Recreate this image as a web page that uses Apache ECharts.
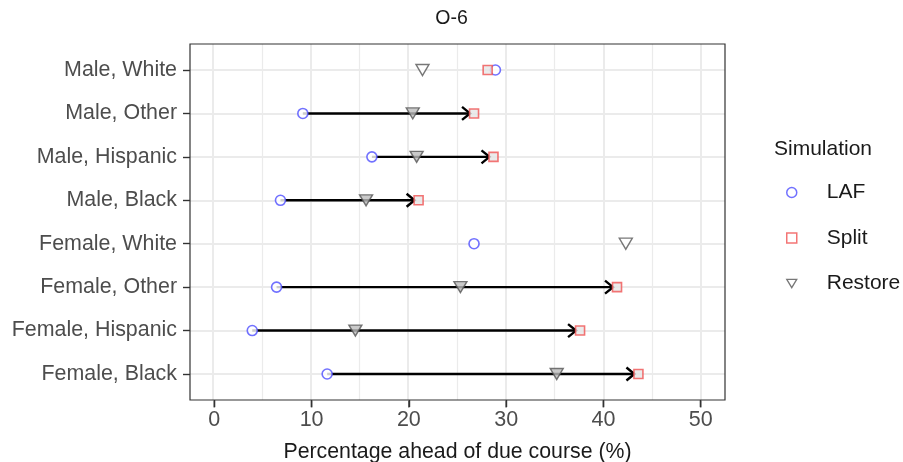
<!DOCTYPE html>
<html><head><meta charset="utf-8">
<script src="https://cdn.jsdelivr.net/npm/echarts@6/dist/echarts.min.js"></script>
<style>html,body{margin:0;padding:0;background:#fff}#c{width:903px;height:462px}</style>
</head><body><div id="c"></div>
<script>
var categories = ["Male, White","Male, Other","Male, Hispanic","Male, Black","Female, White","Female, Other","Female, Hispanic","Female, Black"];
var lafValues = [28.9, 9.1, 16.2, 6.8, 26.7, 6.4, 3.9, 11.6];
var splitValues = [28.1, 26.7, 28.7, 21.0, null, 41.4, 37.6, 43.6];
var restoreValues = [21.4, 20.4, 20.8, 15.6, 42.3, 25.3, 14.5, 35.2];
var xTicks = [0, 10, 20, 30, 40, 50];

var FONT = "'Liberation Sans', Arial, Helvetica, sans-serif";
var BLUE = '#4d4dff', RED = '#f05252', GRAYS = '#555555';

function hasArrow(i){ return splitValues[i] != null && splitValues[i] > lafValues[i] + 1; }

var arrowData = [];
categories.forEach(function(c,i){ if (hasArrow(i)) arrowData.push([lafValues[i], splitValues[i], i]); });

var chart = echarts.init(document.getElementById('c'), null, {renderer:'canvas'});
chart.setOption({
  animation: false,
  backgroundColor: '#fff',
  textStyle: {fontFamily: FONT},
  title: [
    {text: 'O-6', left: 'center', top: 4, textStyle: {fontFamily: FONT, fontSize: 19.5, fontWeight: 'normal', color: '#1a1a1a'}},
    {text: 'Simulation', left: 769, top: 134, textStyle: {fontFamily: FONT, fontSize: 21, fontWeight: 'normal', color: '#1a1a1a'}}
  ],
  legend: {
    orient: 'vertical', left: 786, top: 182, padding: 0,
    itemWidth: 10, itemHeight: 10, itemGap: 24.5,
    textStyle: {fontFamily: FONT, fontSize: 21, color: '#1a1a1a', lineHeight: 20, padding: [0,0,0,25]},
    data: [
      {name: 'LAF', icon: 'circle', itemStyle: {color: '#fff', borderColor: BLUE, borderWidth: 1.5}},
      {name: 'Split', icon: 'rect', itemStyle: {color: '#fff', borderColor: RED, borderWidth: 1.5}},
      {name: 'Restore', icon: 'path://M0,0L12,0L6,10Z', itemStyle: {color: '#fff', borderColor: GRAYS, borderWidth: 1.3}}
    ]
  },
  grid: [
    {left: 213, right: 202, top: 44, bottom: 62, containLabel: false, outerBoundsMode: 'none'},
    {left: 190, right: 178, top: 70, bottom: 88, containLabel: false, outerBoundsMode: 'none'},
    {left: 190, right: 178, top: 44, bottom: 62, show: true, borderColor: '#333333', borderWidth: 1.2, backgroundColor: 'transparent', z: 10, outerBoundsMode: 'none'}
  ],
  xAxis: [
    {gridIndex: 0, type: 'value', position: 'bottom', min: xTicks[0], max: xTicks[xTicks.length-1], interval: 10,
     axisLine: {show: false}, axisTick: {show: false}, axisLabel: {show: false},
     splitLine: {show: true, lineStyle: {color: '#ebebeb', width: 2}},
     minorTick: {show: false, splitNumber: 2},
     minorSplitLine: {show: true, lineStyle: {color: '#ebebeb', width: 1.2}}},
    {gridIndex: 1, type: 'value', min: -2.5, max: 52.5, show: false},
    {gridIndex: 2, type: 'value', position: 'bottom', min: -2.5, max: 52.5,
     axisLine: {show: true, onZero: false, lineStyle: {color: 'rgba(0,0,0,0)'}},
     axisTick: {show: true, inside: false, length: 7, customValues: xTicks, lineStyle: {color: '#333333', width: 1.4}},
     axisLabel: {fontFamily: FONT, fontSize: 21.5, color: '#4d4d4d', margin: 9, customValues: xTicks},
     splitLine: {show: false},
     name: 'Percentage ahead of due course (%)', nameLocation: 'middle', nameGap: 42,
     nameTextStyle: {fontFamily: FONT, fontSize: 21.3, color: '#1a1a1a'}}
  ],
  yAxis: [
    {gridIndex: 0, type: 'value', min: 0, max: 1, show: false},
    {gridIndex: 1, type: 'category', data: categories, inverse: true, boundaryGap: false,
     axisLine: {show: true, onZero: false, lineStyle: {color: 'rgba(0,0,0,0)'}},
     axisTick: {show: true, length: 7, lineStyle: {color: '#333', width: 1.4}},
     axisLabel: {fontFamily: FONT, fontSize: 21.4, color: '#4d4d4d', margin: 13},
     splitLine: {show: true, lineStyle: {color: '#ebebeb', width: 2}}},
    {gridIndex: 2, type: 'value', min: 0, max: 1, show: false}
  ],
  series: [
    {type: 'scatter', xAxisIndex: 2, yAxisIndex: 2, clip: false, zlevel: 1, z: 20, silent: true,
     symbol: 'rect', symbolSize: [1.6, 7], symbolOffset: [0, 4],
     itemStyle: {color: '#333333'},
     data: xTicks.map(function(v){ return [v, 0]; })},
    {type: 'custom', xAxisIndex: 1, yAxisIndex: 1, clip: false, z: 2,
     data: arrowData,
     renderItem: function(params, api){
       var y = api.value(2);
       var p1 = api.coord([api.value(0), y]);
       var p2 = api.coord([api.value(1), y]);
       var tip = [p2[0] - 4, p2[1]];
       return {type: 'group', children: [
         {type: 'line', shape: {x1: p1[0], y1: p1[1], x2: tip[0], y2: tip[1]}, style: {stroke: '#000', lineWidth: 2.4}},
         {type: 'polyline', shape: {points: [[tip[0]-8, tip[1]-6.5], tip, [tip[0]-8, tip[1]+6.5]]}, style: {stroke: '#000', lineWidth: 2.4, fill: null}}
       ]};
     }},
    {name: 'Restore', type: 'scatter', xAxisIndex: 1, yAxisIndex: 1, clip: false, z: 3,
     symbol: 'path://M0,0L12,0L6,10Z', symbolSize: [13, 11],
     itemStyle: {color: '#fff', borderColor: GRAYS, borderWidth: 1.4},
     data: restoreValues.map(function(v,i){ return {value: [v, i], itemStyle: hasArrow(i) ? {color: '#bdbdbd'} : {}}; })},
    {name: 'LAF', type: 'scatter', xAxisIndex: 1, yAxisIndex: 1, clip: false, z: 4,
     symbol: 'circle', symbolSize: 10,
     itemStyle: {color: '#fff', borderColor: BLUE, borderWidth: 1.6},
     data: lafValues.map(function(v,i){ return [v, i]; })},
    {name: 'Split', type: 'scatter', xAxisIndex: 1, yAxisIndex: 1, clip: false, z: 5,
     symbol: 'rect', symbolSize: 9,
     itemStyle: {color: '#e6e6e6', borderColor: RED, borderWidth: 1.6},
     data: splitValues.map(function(v,i){ return v == null ? null : [v, i]; }).filter(function(d){ return d; })}
  ]
});
</script></body></html>
